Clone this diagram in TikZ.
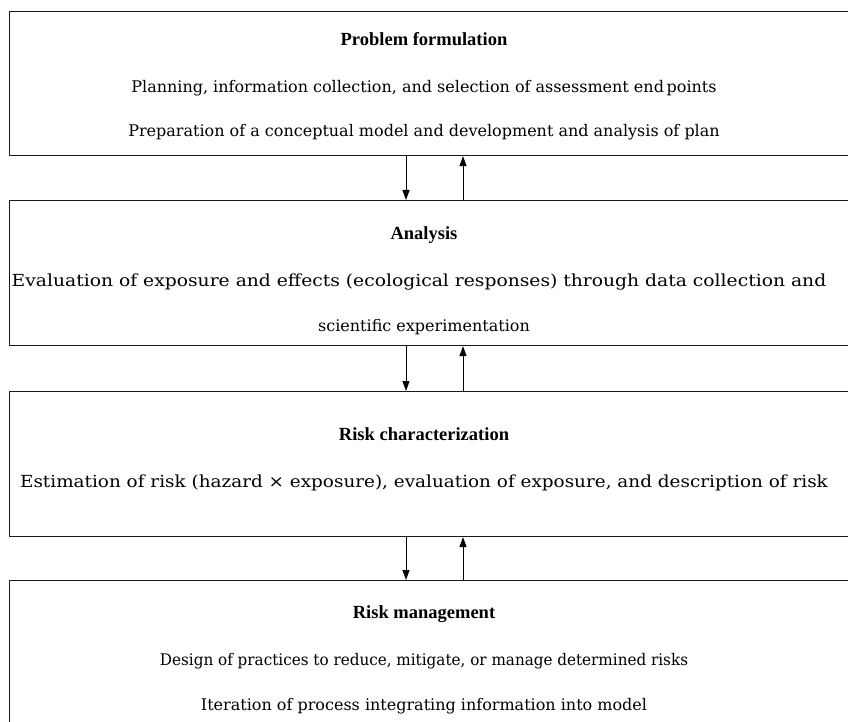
\documentclass[tikz,border=0pt]{standalone}
\usepackage{fontspec}
\usepackage{graphicx}
\setmainfont{Liberation Serif}
\newfontfamily\bodyfont{DejaVu Serif}
\usetikzlibrary{arrows.meta}
\begin{document}
\begin{tikzpicture}[x=1pt,y=-1pt,
  box/.style={draw=black!90, line width=1.1pt, anchor=north west, minimum width=870pt, inner sep=0pt},
  head/.style={anchor=base, font=\fontsize{18.5}{22}\selectfont\bfseries, inner sep=0pt},
  body/.style={anchor=base, font=\bodyfont\fontsize{16}{20}\selectfont, inner sep=0pt},
  arr/.style={line width=1pt, -{Triangle[length=10pt,width=7pt]}}]
\useasboundingbox (0,0) rectangle (848,722);
\clip (0,0) rectangle (848,722);

% stage boxes
\node[box, minimum height=144pt] (b1) at (9,11) {};
\node[box, minimum height=145pt] (b2) at (9,200) {};
\node[box, minimum height=145pt] (b3) at (9,391) {};
\node[box, minimum height=160pt] (b4) at (9,580) {};

% stage texts
\node[head] (t1) at (424,46) {Problem formulation};
\node[body] (t1a) at (424,93) {Planning, information collection, and selection of assessment end\,points};
\node[body] (t1b) at (424,137) {Preparation of a conceptual model and development and analysis of plan};

\node[head] (t2) at (424,239) {Analysis};
\node[body] (t2a) at (419,286) {\scalebox{1.17}[1.04]{Evaluation of exposure and effects (ecological responses) through data collection and}};
\node[body] (t2b) at (424,331) {scientific experimentation};

\node[head] (t3) at (424,440) {Risk characterization};
\node[body] (t3a) at (424,487) {\scalebox{1.15}[1.04]{Estimation of risk (hazard × exposure), evaluation of exposure, and description of risk}};

\node[head] (t4) at (424,618) {Risk management};
\node[body] (t4a) at (424,665) {\scalebox{0.95}[1]{Design of practices to reduce, mitigate, or manage determined risks}};
\node[body] (t4b) at (424,710) {Iteration of process integrating information into model};

% feedback arrows between stages
\coordinate (dn) at (406,0);
\coordinate (up) at (463,0);
\draw[arr] (b1.south -| dn) -- (b2.north -| dn);
\draw[arr] (b2.north -| up) -- (b1.south -| up);
\draw[arr] (b2.south -| dn) -- (b3.north -| dn);
\draw[arr] (b3.north -| up) -- (b2.south -| up);
\draw[arr] (b3.south -| dn) -- (b4.north -| dn);
\draw[arr] (b4.north -| up) -- (b3.south -| up);
\end{tikzpicture}
\end{document}
